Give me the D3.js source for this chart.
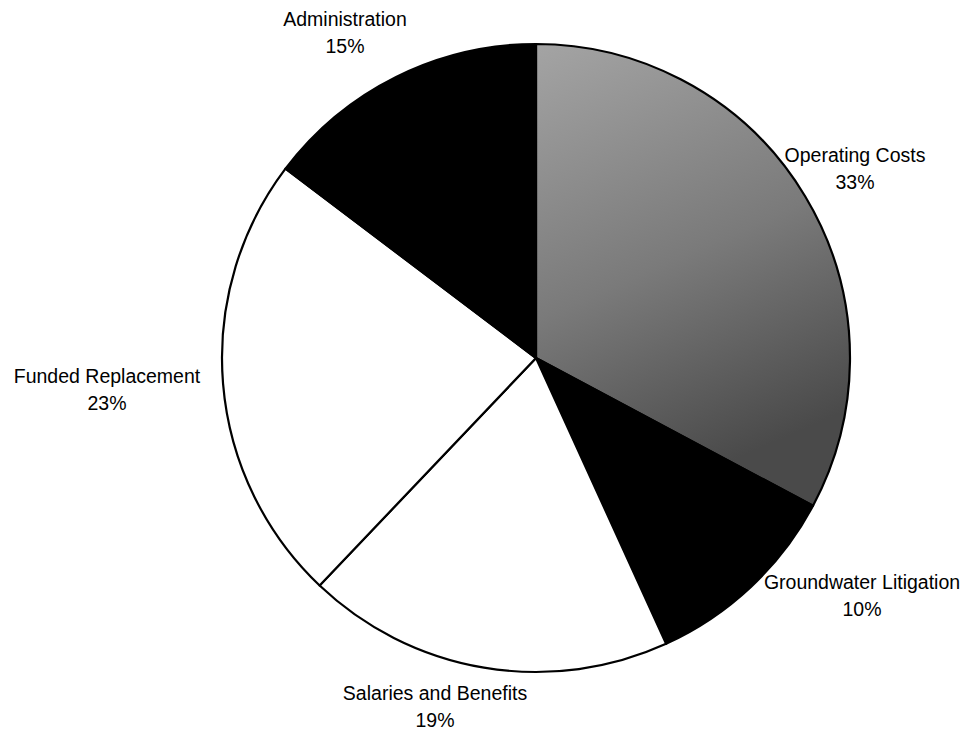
<!DOCTYPE html>
<html lang="en">
<head>
  <meta charset="utf-8">
  <title>Budget Pie</title>
  <script src="https://cdn.jsdelivr.net/npm/d3@7"></script>
  <style>
    body { margin: 0; background: #fff; }
    .label { font-family: 'Liberation Sans', Arial, sans-serif; font-size: 19.5px; fill: #000; text-anchor: middle; }
  </style>
</head>
<body>
<svg id="chart" width="975" height="734"></svg>
<script>

// slices, clockwise from 12 o'clock
var categories = ['Operating Costs', 'Groundwater Litigation', 'Salaries and Benefits', 'Funded Replacement', 'Administration'];
var values = [32.8, 10.4, 18.9, 23.2, 14.7];
var pct_labels = ['33%', '10%', '19%', '23%', '15%'];
var fills = ['url(#gray_fill)', '#000', '#fff', '#fff', '#000'];

// label anchor (centre x, first baseline y)
var label_pos = [[855, 162], [862, 589], [435, 700], [107, 383], [345, 26]];

var cx = 536, cy = 358, radius = 314;

var svg = d3.select('#chart');

var defs = svg.append('defs');
var grad = defs.append('linearGradient').attr('id', 'gray_fill')
  .attr('x1', 0).attr('y1', 0).attr('x2', 0.3).attr('y2', 1);
grad.append('stop').attr('offset', '0%').attr('stop-color', '#a4a4a4');
grad.append('stop').attr('offset', '55%').attr('stop-color', '#7a7a7a');
grad.append('stop').attr('offset', '100%').attr('stop-color', '#4a4a4a');

var pie = d3.pie().sort(null).value(function(d){ return d; });
var arc = d3.arc().innerRadius(0).outerRadius(radius);

var g = svg.append('g').attr('transform', 'translate(' + cx + ',' + cy + ')');

g.selectAll('path.slice').data(pie(values)).enter()
  .append('path').attr('class', 'slice')
  .attr('d', arc)
  .attr('fill', function(d, i){ return fills[i]; })
  .attr('stroke', '#000')
  .attr('stroke-width', 2.2)
  .attr('stroke-linejoin', 'round');

categories.forEach(function(c, i){
  var t = svg.append('text').attr('class', 'label')
    .attr('x', label_pos[i][0]).attr('y', label_pos[i][1]);
  t.append('tspan').attr('x', label_pos[i][0]).text(c);
  t.append('tspan').attr('x', label_pos[i][0]).attr('dy', 27).text(pct_labels[i]);
});

</script>
</body>
</html>
